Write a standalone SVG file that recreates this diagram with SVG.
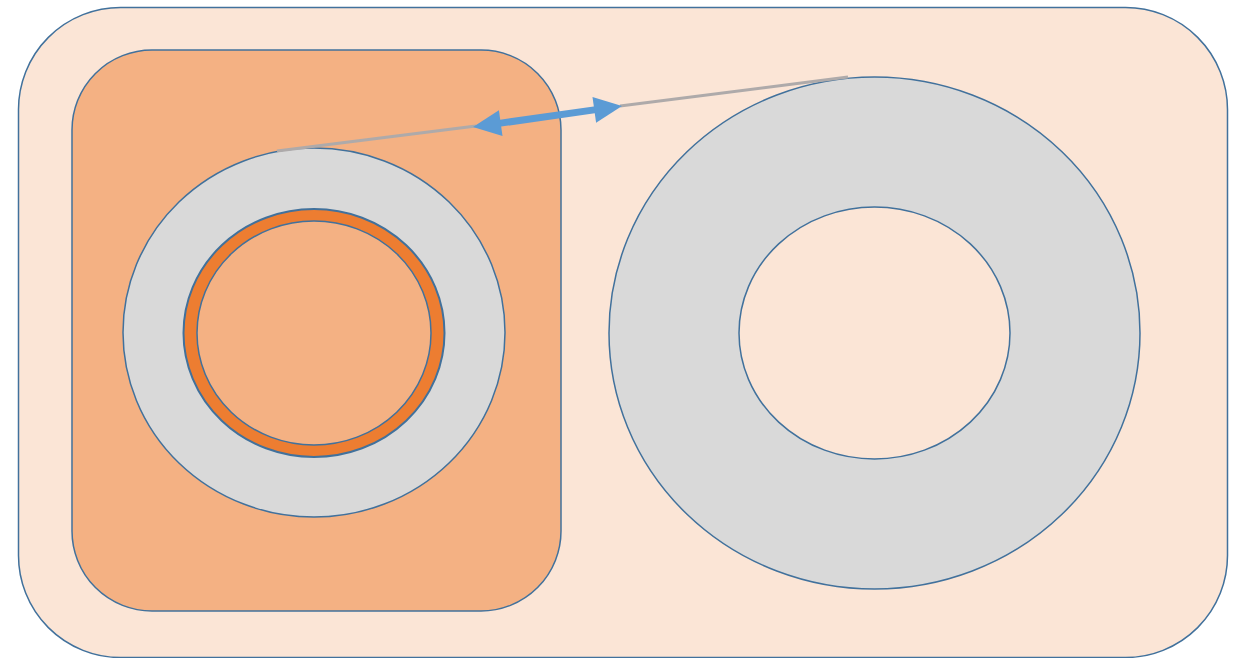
<svg xmlns="http://www.w3.org/2000/svg" width="1238" height="658" viewBox="0 0 1238 658">
<style>
.frame{stroke:#41719C;stroke-width:1.5}
.gline{stroke:#AEAAAA;stroke-width:3;fill:none}
.head{fill:#5B9BD5}
</style>
<rect width="1238" height="658" fill="#FFFFFF"/>
<g id="outer-container">
<rect class="frame" x="18.5" y="7.5" width="1209" height="650" rx="102" ry="102" fill="#FBE5D6"/>
</g>
<g id="inner-container">
<rect class="frame" x="72" y="50" width="489" height="561" rx="80" ry="80" fill="#F4B183"/>
</g>
<g id="left-donut">
<ellipse class="frame" cx="314" cy="332.5" rx="191" ry="184.5" fill="#D9D9D9"/>
<ellipse cx="314" cy="333" rx="130.5" ry="124" fill="#ED7D31" stroke="#41719C" stroke-width="2"/>
<ellipse class="frame" cx="314" cy="333" rx="117" ry="112" fill="#F4B183"/>
</g>
<g id="right-donut">
<ellipse class="frame" cx="874.5" cy="333" rx="265.5" ry="256" fill="#D9D9D9"/>
<ellipse class="frame" cx="874.5" cy="333" rx="135.5" ry="126" fill="#FBE5D6"/>
</g>
<g id="connectors">
<line class="gline" x1="277" y1="151" x2="476" y2="126"/>
<line class="gline" x1="620" y1="106" x2="848" y2="77"/>
<line x1="499" y1="123.4" x2="596" y2="109.6" stroke="#5B9BD5" stroke-width="7"/>
<polygon class="head" points="473,127 498.9,110.2 502.5,136.0"/>
<polygon class="head" points="622,106 592.5,97.0 596.1,122.8"/>
</g>
</svg>
